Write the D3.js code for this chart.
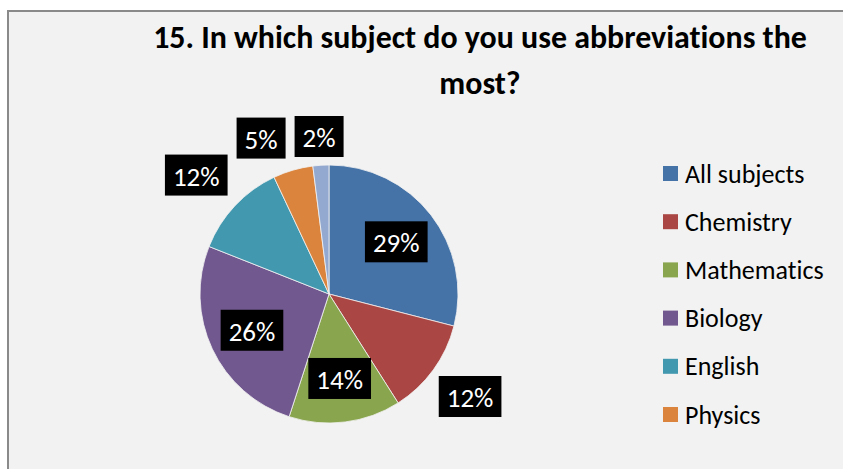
<!DOCTYPE html>
<html>
<head>
<meta charset="utf-8">
<script src="https://cdn.jsdelivr.net/npm/d3@7"></script>
<style>
  body { margin: 0; background: #fff; }
  svg { display: block; font-family: Carlito, Calibri, Lato, "Open Sans", sans-serif; font-variant-ligatures: none; }
</style>
</head>
<body>
<div id="chart"></div>
<script>
const categories = ["All subjects", "Chemistry", "Mathematics", "Biology", "English", "Physics", "Other"];
const percents = [29, 12, 14, 26, 12, 5, 2];
const colors = ["#4572A7", "#AA4643", "#89A54E", "#71588F", "#4198AF", "#DB843D", "#93A9CF"];
const titleLines = ["15. In which subject do you use abbreviations the", "most?"];

const width = 843, height = 469;
const cx = 329, cy = 294, r = 129;

const svg = d3.select("#chart").append("svg")
  .attr("width", width)
  .attr("height", height);

// chart area (extends past the right/bottom edge like the screenshot)
svg.append("rect")
  .attr("x", 8).attr("y", 11)
  .attr("width", 900).attr("height", 500)
  .attr("fill", "#f2f2f2")
  .attr("stroke", "#8a8a8a")
  .attr("stroke-width", 2);

// title
const title = svg.append("g");
titleLines.forEach((line, i) => {
  title.append("text")
    .attr("x", 480)
    .attr("y", 48 + i * 46)
    .attr("text-anchor", "middle")
    .attr("font-weight", "bold")
    .attr("font-size", 30)
    .attr("fill", "#000")
    .text(line);
});
// fit first line to the original width
const t0 = title.select("text").node();
const fs = 30 * 654 / t0.getComputedTextLength();
title.selectAll("text").attr("font-size", Math.min(fs, 33));

// pie
const pie = d3.pie().sort(null).value(d => d);
const arcs = pie(percents);
const arc = d3.arc().innerRadius(0).outerRadius(r);
const color = d3.scaleOrdinal().domain(categories).range(colors);

const gPie = svg.append("g").attr("transform", `translate(${cx},${cy})`);
gPie.selectAll("path")
  .data(arcs)
  .join("path")
  .attr("d", arc)
  .attr("fill", (d, i) => color(categories[i]))
  .attr("stroke", "#f2f2f2")
  .attr("stroke-width", 0.8);

// data labels: black boxes, white text
const labelSize = 27, padX = 8, boxH = 41;
const gLab = gPie.append("g");
const labels = arcs.map((d, i) => {
  const txt = gLab.append("text")
    .attr("font-size", labelSize)
    .attr("fill", "#fff")
    .attr("text-anchor", "middle")
    .attr("dominant-baseline", "central")
    .text(d3.format(".0%")(d.value / 100));
  const w = txt.node().getComputedTextLength() + padX * 2;
  const mid = (d.startAngle + d.endAngle) / 2;
  const ux = Math.sin(mid), uy = -Math.cos(mid);
  let x, y, outside = d.value < 13;
  if (!outside) {
    x = ux * r * 0.66; y = uy * r * 0.66;
  } else {
    // push box out until its nearest point sits just outside the pie
    let lo = 0, hi = 400;
    for (let k = 0; k < 40; k++) {
      const t = (lo + hi) / 2;
      const bx = t * ux, by = t * uy;
      const nx = Math.max(0, Math.abs(bx) - w / 2);
      const ny = Math.max(0, Math.abs(by) - boxH / 2);
      if (Math.hypot(nx, ny) < r + 8) lo = t; else hi = t;
    }
    x = hi * ux; y = hi * uy;
  }
  return { txt, w, x, y, outside };
});

// resolve overlap between neighbouring outside labels
for (let i = labels.length - 2; i >= 0; i--) {
  const a = labels[i], b = labels[i + 1];
  if (!a.outside || !b.outside) continue;
  const overlapX = (a.w + b.w) / 2 + 9 - Math.abs(a.x - b.x);
  const overlapY = boxH - Math.abs(a.y - b.y);
  if (overlapX > 0 && overlapY > 0) {
    a.x += a.x < b.x ? -overlapX : overlapX;
  }
}

labels.forEach(l => {
  gLab.insert("rect", "text")
    .attr("x", l.x - l.w / 2)
    .attr("y", l.y - boxH / 2)
    .attr("width", l.w)
    .attr("height", boxH)
    .attr("fill", "#000");
  l.txt.attr("x", l.x).attr("y", l.y + 1);
});

// legend (entries that don't fit are dropped, as in the original)
const legendY = d3.scalePoint()
  .domain(categories)
  .range([173.5, 173.5 + 48.2 * (categories.length - 1)]);
const legendItems = categories.filter(c => legendY(c) + 8 < 440);

const gLeg = svg.append("g");
const items = gLeg.selectAll("g")
  .data(legendItems)
  .join("g")
  .attr("transform", d => `translate(663,${legendY(d)})`);
items.append("rect")
  .attr("y", -7.5)
  .attr("width", 15)
  .attr("height", 15)
  .attr("fill", d => color(d));
items.append("text")
  .attr("x", 22)
  .attr("dominant-baseline", "central")
  .attr("font-size", 26)
  .attr("fill", "#000")
  .text(d => d);
</script>
</body>
</html>
